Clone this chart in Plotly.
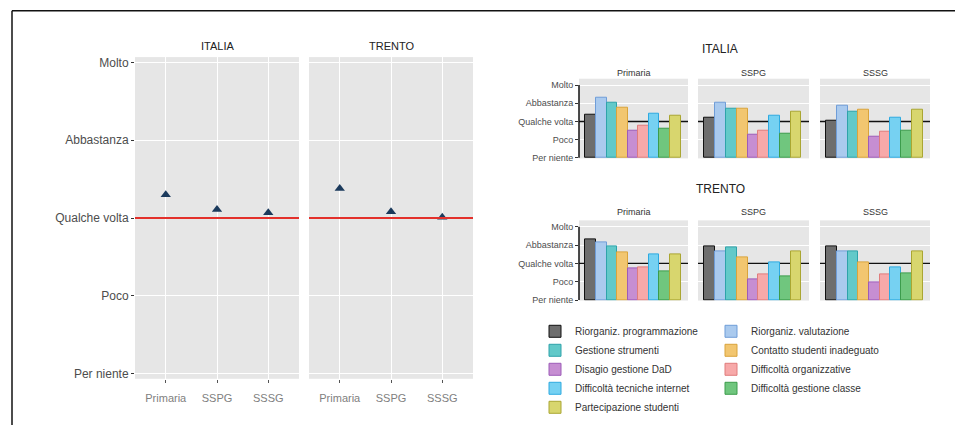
import plotly.graph_objects as go

# ---------------- data ----------------
livelli = ["Per niente", "Poco", "Qualche volta", "Abbastanza", "Molto"]
livelli_val = [1, 2, 3, 4, 5]
scuole = ["Primaria", "SSPG", "SSSG"]
aree = ["ITALIA", "TRENTO"]

media_italia = [3.30, 3.11, 3.07]
media_trento = [3.38, 3.08, 3.01]

problemi = [
    "Riorganiz. programmazione",
    "Riorganiz. valutazione",
    "Gestione strumenti",
    "Contatto studenti inadeguato",
    "Disagio gestione DaD",
    "Difficoltà organizzative",
    "Difficoltà tecniche internet",
    "Difficoltà gestione classe",
    "Partecipazione studenti",
]

italia_primaria = [3.36, 4.33, 4.02, 3.78, 2.51, 2.76, 3.45, 2.60, 3.29]
italia_sspg = [3.22, 4.02, 3.71, 3.71, 2.25, 2.51, 3.29, 2.35, 3.53]
italia_sssg = [3.05, 3.89, 3.55, 3.62, 2.18, 2.42, 3.22, 2.51, 3.62]
trento_primaria = [4.31, 4.15, 3.94, 3.61, 2.71, 2.78, 3.47, 2.55, 3.47]
trento_sspg = [3.91, 3.68, 3.85, 3.34, 2.11, 2.41, 3.03, 2.27, 3.68]
trento_sssg = [3.91, 3.68, 3.68, 3.08, 1.95, 2.41, 2.78, 2.48, 3.68]

colori_fill = ["#6e6e6e", "#aacaee", "#62c9c9", "#f2c670", "#c68ed2",
               "#f7a9a9", "#76d1f2", "#70c67e", "#d8d66e"]
colori_bordo = ["#111111", "#6f9dd8", "#2ea3aa", "#d9a43c", "#9d5cb8",
                "#e07c7c", "#2eaae0", "#3c9c4c", "#aaa632"]

# ---------------- geometry ----------------
W, H = 955, 430
FONT = "Liberation Sans, Arial, sans-serif"


def dx(a, b):
    return [a / W, b / W]


def dy(top, bottom):
    return [1 - bottom / H, 1 - top / H]


fig = go.Figure()

# ---------- left chart: means ----------
for k, (area, medie) in enumerate(zip(aree, [media_italia, media_trento])):
    sfx = "" if k == 0 else "2"
    fig.add_trace(go.Scatter(
        x=scuole, y=medie, mode="markers",
        marker=dict(symbol="triangle-up", size=9, color="#1b3a5c"),
        xaxis="x" + sfx, yaxis="y" + sfx, showlegend=False,
        hovertemplate="%{x}: %{y:.2f}<extra>" + area + "</extra>",
    ))

# ---------- right chart: bars ----------
pannelli = [italia_primaria, italia_sspg, italia_sssg,
            trento_primaria, trento_sspg, trento_sssg]
for p, valori in enumerate(pannelli):
    ax = str(p + 3)
    for i, nome in enumerate(problemi):
        fig.add_trace(go.Bar(
            x=[nome], y=[valori[i] - 1], base=1,
            marker=dict(color=colori_fill[i],
                        line=dict(color=colori_bordo[i], width=1)),
            name=nome, xaxis="x" + ax, yaxis="y" + ax,
            showlegend=(p == 0),
            legend="legend" if i % 2 == 0 else "legend2",
            hovertemplate=nome + ": %{y:.2f}<extra></extra>",
        ))

layout = dict(
    width=W, height=H,
    margin=dict(l=0, r=0, t=0, b=0),
    paper_bgcolor="white",
    plot_bgcolor="#e6e6e6",
    font=dict(family=FONT, color="#4d4d4d"),
    barmode="overlay", bargap=0,
)

# left axes
left_y = dict(range=[0.937, 5.067], tickvals=livelli_val, showgrid=True,
              gridcolor="white", gridwidth=1, zeroline=False)
left_x = dict(type="category", range=[-0.6, 2.6], showgrid=True,
              gridcolor="white", ticks="outside", ticklen=3, tickcolor="#555",
              ticklabelstandoff=6,
              tickfont=dict(size=11, color="#808080"), zeroline=False)
layout["xaxis"] = dict(domain=dx(135, 299), anchor="y", **left_x)
layout["xaxis2"] = dict(domain=dx(309, 473), anchor="y2", **left_x)
layout["yaxis"] = dict(domain=dy(56, 383), anchor="x", ticktext=livelli,
                       ticks="outside", ticklen=3, tickcolor="#333",
                       tickfont=dict(size=12, color="#4d4d4d"), **left_y)
layout["yaxis2"] = dict(domain=dy(56, 383), anchor="x2", showticklabels=False,
                        ticks="", **left_y)

# right axes (grid drawn as minor lines so the black line at 3 stays visible)
cols = [(579, 688), (698, 809), (820, 930)]
rows = [(78, 159), (222, 303.5)]
for p in range(6):
    r, c = divmod(p, 3)
    n = str(p + 3)
    layout["xaxis" + n] = dict(domain=dx(*cols[c]), anchor="y" + n,
                               type="category", categoryorder="array",
                               categoryarray=problemi, range=[-1.1, 9.2],
                               showticklabels=False, ticks="", showgrid=False,
                               zeroline=False)
    ya = dict(domain=dy(*rows[r]), anchor="x" + n, range=[0.97, 5.35],
              tickvals=livelli_val, ticktext=livelli, showgrid=False,
              zeroline=False,
              minor=dict(tickvals=[1, 2, 4, 5], showgrid=True,
                         gridcolor="white", gridwidth=1, ticks=""))
    if c == 0:
        ya.update(ticks="outside", ticklen=3, tickcolor="#333",
                  tickfont=dict(size=9, color="#4d4d4d"))
    else:
        ya.update(showticklabels=False, ticks="")
    layout["yaxis" + n] = ya

# legends (two columns)
leg = dict(xanchor="left", yanchor="top", bgcolor="rgba(0,0,0,0)",
           font=dict(size=10, color="#333", family=FONT),
           traceorder="normal", tracegroupgap=0, itemclick=False)
layout["legend"] = dict(x=535 / W, y=1 - 320 / H, **leg)
layout["legend2"] = dict(x=711 / W, y=1 - 320 / H, **leg)

shapes = []
# red reference lines (left)
for sfx in ["", "2"]:
    shapes.append(dict(type="line", xref="x" + sfx + " domain", x0=0, x1=1,
                       yref="y" + sfx, y0=3, y1=3, layer="above",
                       line=dict(color="#e3302b", width=2)))
# black reference lines (right), under the bars
for p in range(6):
    n = str(p + 3)
    shapes.append(dict(type="line", xref="x" + n + " domain", x0=0, x1=1,
                       yref="y" + n, y0=3, y1=3, layer="below",
                       line=dict(color="#111", width=1.3)))
# y axis lines on first column of bar panels
for n in ["3", "6"]:
    shapes.append(dict(type="line", xref="x" + n + " domain", x0=0, x1=0,
                       yref="y" + n, y0=1, y1=5, layer="above",
                       line=dict(color="#111", width=1.5)))
# outer frame
shapes.append(dict(type="line", xref="paper", yref="paper",
                   x0=12 / W, x1=1, y0=1 - 9 / H, y1=1 - 9 / H,
                   line=dict(color="#111", width=1.5)))
shapes.append(dict(type="line", xref="paper", yref="paper",
                   x0=12 / W, x1=12 / W, y0=0, y1=1 - 9 / H,
                   line=dict(color="#111", width=1.5)))
layout["shapes"] = shapes

ann = []
A = dict(xref="paper", yref="paper", showarrow=False,
         xanchor="center", yanchor="middle")
# left facet titles
for area, (a, b) in zip(aree, [(135, 299), (309, 473)]):
    ann.append(dict(text=area, x=(a + b) / 2 / W, y=1 - 45 / H,
                    font=dict(size=11, color="#222"), **A))
# right titles
for area, ty, fy in zip(aree, [48, 190], [72, 213]):
    ann.append(dict(text=area, x=720 / W, y=1 - ty / H,
                    font=dict(size=12, color="#222"), **A))
    for s, (a, b) in zip(scuole, cols):
        ann.append(dict(text=s, x=(a + b) / 2 / W, y=1 - fy / H,
                        font=dict(size=9, color="#333"), **A))
layout["annotations"] = ann

fig.update_layout(**layout)
fig.write_html("out.html")
